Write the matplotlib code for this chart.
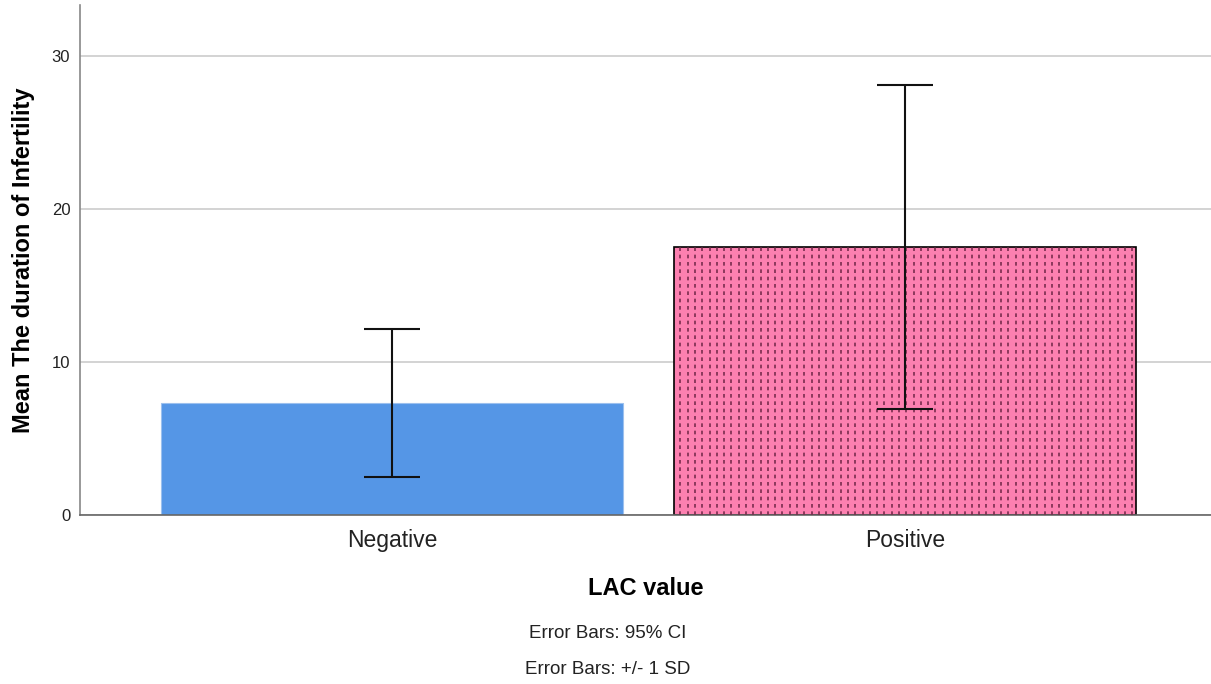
import numpy as np
import matplotlib.pyplot as plt

# group means with error bar ends (lower, upper)
groups = ["Negative", "Positive"]
means = [7.3, 17.5]
err_low = [2.5, 6.9]
err_high = [12.15, 28.1]
ytick_vals = [0, 10, 20, 30]

plt.rcParams['font.family'] = ['Liberation Sans', 'DejaVu Sans']

fig = plt.figure(figsize=(12.11, 6.84), dpi=100)
ax = fig.add_axes([80 / 1211, 1 - 515 / 684, 1 - 80 / 1211, 510 / 684])

x = np.arange(len(groups))
bars = ax.bar(x, means, width=0.9, color=["#5596E6", "#FC80B0"], zorder=2)
bars[0].set_edgecolor("#9cc0ee")
bars[0].set_linewidth(0.8)
bars[1].set_edgecolor("black")
bars[1].set_linewidth(1.2)

# vertical dotted fill pattern on the positive bar
pb = bars[1]
px = np.arange(pb.get_x() + 0.012, pb.get_x() + pb.get_width(), 0.0142)
dots = ax.vlines(px, 0, pb.get_height(), colors="#7a2d4e", linewidth=1.2,
                 linestyles=(0, (2.2, 2.2)), zorder=3)
dots.set_clip_path(pb)

# error bars drawn from the interval ends
m = np.array(means)
yerr = [m - np.array(err_low), np.array(err_high) - m]
ax.errorbar(x, m, yerr=yerr, fmt="none", ecolor="#111111", elinewidth=1.5,
            capsize=20.5, capthick=1.5, zorder=4)

ax.set_xlim(-0.608, 1.596)
ax.set_ylim(0, 33.3)
ax.set_yticks(ytick_vals)
ax.set_yticklabels([str(v) for v in ytick_vals], fontsize=12, color="#222222")
ax.set_xticks(x)
ax.set_xticklabels(groups, fontsize=16.5, color="#222222")
ax.tick_params(axis="y", length=0, pad=7)
ax.tick_params(axis="x", length=0, pad=10)

ax.grid(axis="y", color="#cccccc", linewidth=1.2, zorder=0)
ax.set_axisbelow(True)
for s in ["top", "right"]:
    ax.spines[s].set_visible(False)
ax.spines["left"].set_color("#888888")
ax.spines["bottom"].set_color("#666666")
ax.spines["left"].set_linewidth(1.2)
ax.spines["bottom"].set_linewidth(1.2)

ax.set_ylabel("Mean The duration of Infertility", fontsize=17, fontweight="bold",
              labelpad=12)
ax.set_xlabel("LAC value", fontsize=17, fontweight="bold", labelpad=18)

fig.text(608 / 1211, 1 - 633 / 684, "Error Bars: 95% CI", ha="center", va="center",
         fontsize=13.5, color="#222222")
fig.text(608 / 1211, 1 - 670 / 684, "Error Bars: +/- 1 SD", ha="center", va="center",
         fontsize=13.5, color="#222222")

fig.savefig("out.png", dpi=100)
